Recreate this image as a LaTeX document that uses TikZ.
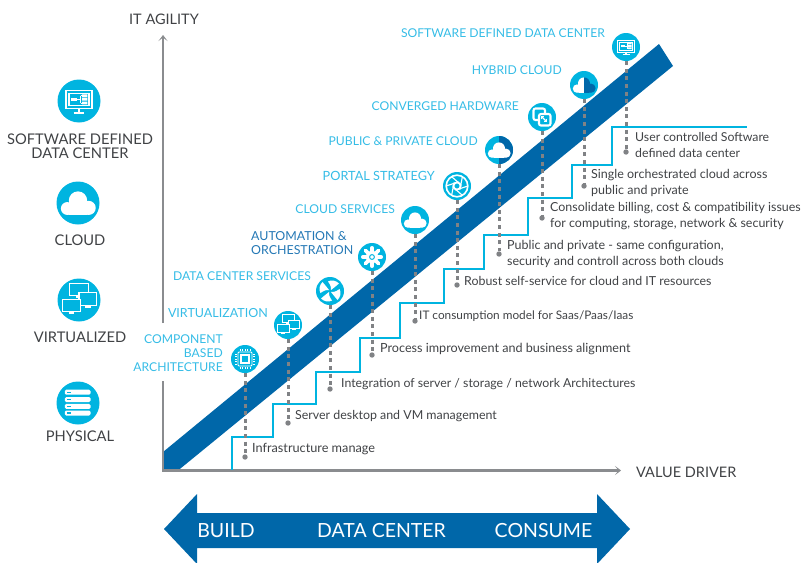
\documentclass[tikz,border=0pt]{standalone}
\usepackage{fontspec}
\setmainfont{Lato}
\usetikzlibrary{arrows.meta}
\definecolor{cy}{HTML}{00B4E0}
\definecolor{lab}{HTML}{35BCE6}
\definecolor{band}{HTML}{0067A9}
\definecolor{axisc}{HTML}{8A8C8F}
\definecolor{txt}{HTML}{404245}
\definecolor{dotc}{HTML}{808285}
\definecolor{auto}{HTML}{2478B5}
\newcommand\fs[1]{\fontsize{#1}{#1}\selectfont}
\newcommand\fb[1]{\fontsize{#1}{16}\selectfont}
\newcommand\cloudshape[1]{%
  \fill[#1] (-7,3.6) circle (4.2) (0,-1.6) circle (6) (7,3.2) circle (4.6);
  \fill[#1,rounded corners=2] (-7,2) rectangle (7,7.8);}
\newcommand\icoCloud[2]{\begin{scope}[shift={(#1)},scale=#2]\cloudshape{white}\end{scope}}
\newcommand\icoPub[1]{\begin{scope}[shift={(#1)}]
  \fill[band] (0,-14) arc (-90:90:14) -- cycle;\cloudshape{white}\end{scope}}
\newcommand\icoHyb[1]{\begin{scope}[shift={(#1)}]
  \begin{scope}\clip (-14,-14) rectangle (0,14);\cloudshape{white}\end{scope}
  \begin{scope}\clip (0,-14) rectangle (14,14);\cloudshape{band}\end{scope}\end{scope}}
\newcommand\icoMon[2]{\begin{scope}[shift={(#1)},scale=#2]
  \draw[white,line width=#2*.9pt] (-8.5,-7) rectangle (8.5,5);
  \draw[white,line width=#2*.9pt] (-6.5,-5) rectangle (6.5,3);
  \draw[white,line width=#2*1.2pt] (0,5) -- (0,7.5) (-3.5,7.6) -- (3.5,7.6);
  \fill[white] (-5,-2) rectangle (-1,.2);
  \fill[white] (2,-4.4) rectangle (5.5,-2.6) (2,-2) rectangle (5.5,-.2) (2,.4) rectangle (5.5,2.2);
  \draw[white,line width=#2*.6pt] (-1,-.9) -- (1,-.9) (1,-3.5) -- (1,1.3) (1,-3.5) -- (2,-3.5) (1,1.3) -- (2,1.3);
  \end{scope}}
\newcommand\onemon[5]{%
  \draw[white,fill=cy,line width=#5*.7pt] (#1,#2) rectangle (#3,#4);
  \fill[white] ({(#1+#3)/2-1.8},#4+.4) rectangle ({(#1+#3)/2+1.8},#4+1.6);}
\newcommand\icoVirt[2]{\begin{scope}[shift={(#1)},scale=#2]
  \onemon{-6}{-11}{6}{-3}{#2}
  \onemon{0}{-5}{11.5}{3.5}{#2}
  \onemon{-10.8}{-.5}{1}{7.5}{#2}
  \end{scope}}
\newcommand\icoPhys[2]{\begin{scope}[shift={(#1)},scale=#2]
  \foreach \yy in {-8.7,-3.9,.6,4.9}{
    \fill[white,rounded corners=1.4] (-8.6,\yy) rectangle (8.2,\yy+3.3);
    \draw[cy,line width=#2*.7pt] (-7,\yy+1.65) -- (-4.5,\yy+1.65);}
  \end{scope}}
\newcommand\icoChip[1]{\begin{scope}[shift={(#1)}]
  \draw[white,line width=.8pt,rounded corners=1] (-7,-7) rectangle (7,7);
  \draw[white,line width=1.4pt] (-4,-4) rectangle (4,4);
  \foreach \p in {-5,-2.5,0,2.5,5}{
    \draw[white,line width=.6pt] (\p,-8) -- (\p,-10) (\p,8) -- (\p,10) (-8,\p) -- (-10,\p) (8,\p) -- (10,\p);}
  \end{scope}}
\newcommand\icoFan[1]{\begin{scope}[shift={(#1)}]
  \foreach \a in {0,90,180,270}{
    \begin{scope}[rotate=\a]
    \fill[white] (1,-1) .. controls (1.6,-3.5) and (0.5,-6) .. (-2,-9.5) .. controls (1.5,-11.5) and (6,-10.5) .. (9,-7.5) .. controls (7,-6) and (4,-3) .. (1,-1) -- cycle;
    \end{scope}}
  \end{scope}}
\newcommand\icoGear[1]{\begin{scope}[shift={(#1)}]
  \foreach \a in {0,45,...,315}{
    \draw[white,line width=3.6pt,line cap=round] (0,0) -- (\a:9.2);}
  \fill[white] (0,0) circle (6.2);
  \draw[cy,line width=1pt] (0,0) circle (2.4);
  \end{scope}}
\newcommand\icoPortal[1]{\begin{scope}[shift={(#1)}]
  \draw[white,line width=1.6pt] (0,0) circle (10.8);
  \foreach \a in {0,60,...,300}{
    \draw[white,line width=1.1pt] (\a:10.8) -- (\a+110:4.5);}
  \draw[white,line width=1.8pt] (0,0) circle (3.6);
  \end{scope}}
\newcommand\icoConv[1]{\begin{scope}[shift={(#1)}]
  \draw[white,line width=2.1pt,rounded corners=2] (-8.5,-8.5) rectangle (3,3);
  \draw[white,line width=2.1pt,rounded corners=2,fill=cy] (-3,-3) rectangle (8.5,8.5);
  \draw[white,line width=1.3pt,{Straight Barb[length=2pt,width=4pt]}-{Straight Barb[length=2pt,width=4pt]}] (-1,-1) -- (5,5);
  \end{scope}}
\tikzset{
  x=1pt,y=-1pt,
  axisline/.style={draw=axisc,line width=2.4pt,-{Stealth[length=6pt,width=9pt,inset=3.5pt]}},
  stair/.style={draw=cy,line width=1.9pt,line join=miter},
  dotline/.style={draw=dotc,line width=3pt,dash pattern=on 4pt off 3.6pt},
  enddot/.style={circle,fill=dotc,inner sep=0pt,minimum size=5.4pt},
  ico/.style={circle,fill=cy,inner sep=0pt,minimum size=28pt},
  icol/.style={circle,fill=cy,inner sep=0pt,minimum size=43pt},
  body/.style={text=txt,inner sep=0pt,anchor=base west},
  bodyb/.style={text=txt,inner sep=0pt,anchor=west,align=left},
  cylab/.style={text=lab,inner sep=0pt,anchor=base east,font=\fs{12.15}},
  leftlab/.style={text=txt,inner sep=0pt,anchor=base,font=\fs{14.7},align=center},
  axlab/.style={text=txt,inner sep=0pt,font=\fs{14.5}},
  arrowlab/.style={text=white,inner sep=0pt,anchor=base,font=\fs{19.5}},
}
\begin{document}
\begin{tikzpicture}
\useasboundingbox (0,0) rectangle (802,562);
\clip (0,0) rectangle (802,562);
% band
\fill[band] (163,452) -- (659,44) -- (673,66) -- (178,470.5) -- (163,470.5) -- cycle;
% axes
\coordinate (o) at (163,470.5);
\coordinate (gapa) at (163,381);
\coordinate (gapb) at (163,323);
\coordinate (ytip) at (163,35);
\coordinate (xtip) at (621,470.5);
\draw[draw=axisc,line width=2.4pt] (o) -- (gapa);
\draw[axisline] (gapb) -- (ytip);
\draw[axisline] (162,470.5) -- (xtip);
% stairs
\coordinate (s0) at (232,470);
\coordinate (s1) at (747,127);
\draw[stair] (s0) -- (232,437) -- (273,437) -- (273,404) -- (316,404) -- (316,372) -- (360,372) -- (360,338) -- (400,338) -- (400,303) -- (444,303) -- (444,269) -- (484,269) -- (484,235) -- (528,235) -- (528,198) -- (572,198) -- (572,165) -- (612,165) -- (612,127) -- (s1);
% small icons
\node[ico] (i1) at (245,359) {};
\node[ico] (i2) at (288,325) {};
\node[ico] (i3) at (330,291) {};
\node[ico] (i4) at (372,257) {};
\node[ico] (i5) at (415,220) {};
\node[ico] (i6) at (457,186) {};
\node[ico] (i7) at (499,150) {};
\node[ico] (i8) at (542,117) {};
\node[ico] (i9) at (584,85) {};
\node[ico] (i10) at (626,47) {};
\icoChip{i1}\icoVirt{i2}{1}\icoFan{i3}\icoGear{i4}\icoCloud{i5}{1}\icoPortal{i6}\icoPub{i7}\icoConv{i8}\icoHyb{i9}\icoMon{i10}{1}
% end dots
\node[enddot] (d1) at (245,457) {};
\node[enddot] (d2) at (288,423) {};
\node[enddot] (d3) at (330,389) {};
\node[enddot] (d4) at (372,355) {};
\node[enddot] (d5) at (415,321) {};
\node[enddot] (d6) at (457,285) {};
\node[enddot] (d7) at (499,254) {};
\node[enddot] (d8) at (542,218) {};
\node[enddot] (d9) at (584,186) {};
\node[enddot] (d10) at (626,152) {};
\foreach \n in {1,...,10}{\draw[dotline] (i\n) -- (d\n);}
% left icons
\node[icol] (l1) at (79,101) {};
\node[icol] (l2) at (78,203) {};
\node[icol] (l3) at (79,300) {};
\node[icol] (l4) at (78,403) {};
\icoMon{l1}{1.53}\icoCloud{l2}{1.53}\icoVirt{l3}{1.53}\icoPhys{l4}{1.53}
% left labels
\node[leftlab,anchor=center] (t1) at (80,146) {SOFTWARE DEFINED\\[-.5pt]DATA CENTER};
\node[leftlab] (t2) at (80,245) {CLOUD};
\node[leftlab] (t3) at (80,342) {VIRTUALIZED};
\node[leftlab] (t4) at (80,441) {PHYSICAL};
\node[axlab,anchor=base] (ya) at (164,24) {IT AGILITY};
\node[axlab,anchor=base west] (xa) at (636,477) {VALUE DRIVER};
% cyan labels
\node[cylab] (c10) at (605,37.5) {SOFTWARE DEFINED DATA CENTER};
\node[cylab] (c9) at (562,74.5) {HYBRID CLOUD};
\node[cylab] (c8) at (519,110) {CONVERGED HARDWARE};
\node[cylab] (c7) at (478,145.5) {PUBLIC \& PRIVATE CLOUD};
\node[cylab,font=\fs{12.7}] (c6) at (435,180.5) {PORTAL STRATEGY};
\node[cylab] (c5) at (395,213.5) {CLOUD SERVICES};
\node[text=auto,inner sep=0pt,anchor=west,align=left,font=\fontsize{12.4}{14}\selectfont] (c4) at (251,243) {AUTOMATION \&\\ORCHESTRATION};
\node[cylab] (c3) at (311,280.5) {DATA CENTER SERVICES};
\node[cylab,font=\fs{12.5}] (c2) at (268,317.5) {VIRTUALIZATION};
\node[text=lab,inner sep=0pt,anchor=east,align=right,font=\fontsize{12.15}{14}\selectfont] (c1) at (223,353.5) {COMPONENT\\BASED\\ARCHITECTURE};
% body text
\node[body,font=\fs{12.7}] (b1) at (252,452.5) {Infrastructure manage};
\node[body,font=\fs{12.4}] (b2) at (295,419.5) {Server desktop and VM management};
\node[body,font=\fs{12.3}] (b3) at (341,387.5) {Integration of server / storage / network Architectures};
\node[body,font=\fs{12.6}] (b4) at (380,352.5) {Process improvement and business alignment};
\node[body,font=\fs{11.8}] (b5) at (419,319.5) {IT consumption model for Saas/Paas/Iaas};
\node[body,font=\fs{12.4}] (b6) at (464,285.5) {Robust self-service for cloud and IT resources};
\node[bodyb,font=\fb{12.5}] (b7) at (507,254) {Public and private - same configuration,\\security and controll across both clouds};
\node[bodyb,font=\fb{12.45}] (b8) at (550,216) {Consolidate billing, cost \& compatibility issues\\for computing, storage, network \& security};
\node[bodyb,font=\fb{12.5}] (b9) at (591,183) {Single orchestrated cloud across\\public and private};
\node[bodyb,font=\fb{12.3}] (b10) at (635,145) {User controlled Software\\defined data center};
% bottom arrow
\fill[band] (164,529) -- (197,494) -- (197,513) -- (597,513) -- (597,494) -- (630,529) -- (597,564) -- (597,548) -- (197,548) -- (197,564) -- cycle;
\node[arrowlab] (a1) at (226,537) {BUILD};
\node[arrowlab] (a2) at (381.5,537) {DATA CENTER};
\node[arrowlab] (a3) at (543.5,537) {CONSUME};
\end{tikzpicture}
\end{document}
